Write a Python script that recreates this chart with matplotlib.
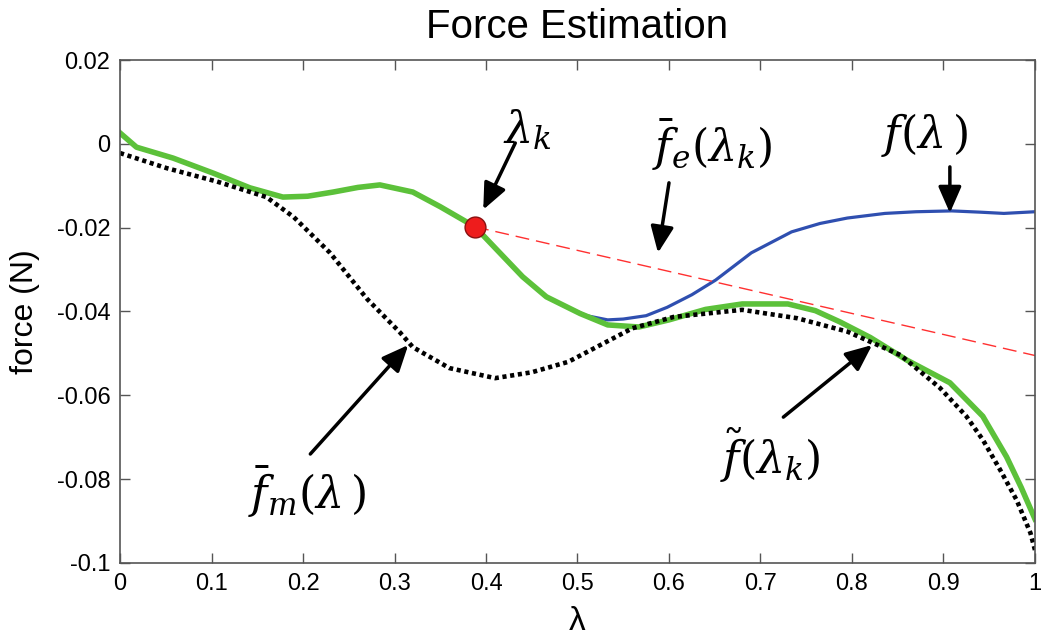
import matplotlib.pyplot as plt

plt.rcParams['font.family'] = ['Liberation Sans', 'DejaVu Sans']
plt.rcParams['mathtext.fontset'] = 'dejavuserif'

# measured curve f(lambda)
lam_f = [0, 0.018, 0.058, 0.102, 0.142, 0.178, 0.205, 0.233, 0.26, 0.284, 0.32, 0.35, 0.388,
         0.412, 0.44, 0.466, 0.487, 0.51, 0.533, 0.55, 0.575, 0.598, 0.625, 0.651, 0.69,
         0.734, 0.765, 0.795, 0.836, 0.87, 0.909, 0.94, 0.966, 1.0]
f_val = [0.0026, -0.0008, -0.0034, -0.007, -0.0105, -0.0127, -0.0125, -0.0115, -0.0104,
         -0.0098, -0.0115, -0.015, -0.0198, -0.0253, -0.0317, -0.0365, -0.0388, -0.041,
         -0.042, -0.0418, -0.041, -0.039, -0.036, -0.0325, -0.026, -0.021, -0.019, -0.0177,
         -0.0166, -0.0162, -0.016, -0.0163, -0.0166, -0.0162]

# estimated curve f~(lambda_k)
lam_t = [0, 0.018, 0.058, 0.102, 0.142, 0.178, 0.205, 0.233, 0.26, 0.284, 0.32, 0.35, 0.388,
         0.412, 0.44, 0.466, 0.503, 0.533, 0.567, 0.6, 0.64, 0.68, 0.73, 0.76, 0.787, 0.82,
         0.86, 0.907, 0.943, 0.969, 0.985, 1.0]
ft_val = [0.0026, -0.0008, -0.0034, -0.007, -0.0105, -0.0127, -0.0125, -0.0115, -0.0104,
          -0.0098, -0.0115, -0.015, -0.0198, -0.0253, -0.0317, -0.0365, -0.0405, -0.0432,
          -0.0437, -0.042, -0.0395, -0.0382, -0.0382, -0.0398, -0.0425, -0.0462, -0.0516,
          -0.057, -0.065, -0.0747, -0.082, -0.0895]

# model curve f_m(lambda)
lam_m = [0, 0.051, 0.106, 0.16, 0.19, 0.2295, 0.27, 0.306, 0.32, 0.36, 0.41, 0.45, 0.49,
         0.56, 0.605, 0.68, 0.74, 0.795, 0.853, 0.896, 0.925, 0.943, 0.962, 0.98, 0.995, 1.0]
fm_val = [-0.0022, -0.0058, -0.009, -0.0127, -0.0175, -0.026, -0.037, -0.045, -0.0485,
          -0.0535, -0.0559, -0.0545, -0.052, -0.044, -0.0413, -0.0396, -0.0416, -0.0448,
          -0.0504, -0.0582, -0.065, -0.0706, -0.0778, -0.085, -0.0928, -0.0969]

# extrapolation f_e(lambda_k)
lam_e = [0.388, 1.0]
fe_val = [-0.0198, -0.0505]
lam_k, f_k = 0.388, -0.0198

fig = plt.figure(figsize=(10.41, 6.35), dpi=100)
ax = fig.add_axes([0.1153, 0.1134, 0.8789, 0.7921])

ax.plot(lam_f, f_val, color='#2f4fb0', lw=2.3)
ax.plot(lam_t, ft_val, color='#5cc13a', lw=4, solid_joinstyle='round')
ax.plot(lam_m, fm_val, color='black', lw=3.3, ls=(0, (0.9, 0.8)))
ax.plot(lam_e, fe_val, color='#ff3030', lw=1, ls=(0, (10, 5)))
ax.plot([lam_k], [f_k], 'o', ms=15, mfc='#ee1c1c', mec='#8a1010', mew=1)

arrow = dict(arrowstyle='-|>,head_length=1.6,head_width=0.7', color='black', lw=2.5,
             shrinkA=0, shrinkB=0)
ax.annotate('', xy=(0.397, -0.0157), xytext=(0.432, 0.0002), arrowprops=arrow)
ax.annotate('', xy=(0.588, -0.026), xytext=(0.600, -0.0093), arrowprops=arrow)
ax.annotate('', xy=(0.907, -0.0165), xytext=(0.907, -0.0055), arrowprops=arrow)
ax.annotate('', xy=(0.315, -0.048), xytext=(0.208, -0.074), arrowprops=arrow)
ax.annotate('', xy=(0.822, -0.048), xytext=(0.725, -0.0652), arrowprops=arrow)

fs = 32
ax.text(0.445, 0.0033, r'$\lambda_k$', fontsize=fs, ha='center', va='center')
ax.text(0.647, -0.0003, r'$\bar{f}_e(\lambda_k)$', fontsize=fs, ha='center', va='center')
ax.text(0.88, 0.0021, r'$f(\lambda\,)$', fontsize=fs, ha='center', va='center')
ax.text(0.205, -0.083, r'$\bar{f}_m(\lambda\,)$', fontsize=fs, ha='center', va='center')
ax.text(0.711, -0.0742, r'$\tilde{f}(\lambda_k)$', fontsize=fs, ha='center', va='center')

ax.set_xlim(0, 1)
ax.set_ylim(-0.1, 0.02)
ax.set_xticks([0, 0.1, 0.2, 0.3, 0.4, 0.5, 0.6, 0.7, 0.8, 0.9, 1])
ax.set_xticklabels(['0', '0.1', '0.2', '0.3', '0.4', '0.5', '0.6', '0.7', '0.8', '0.9', '1'])
ax.set_yticks([-0.1, -0.08, -0.06, -0.04, -0.02, 0, 0.02])
ax.set_yticklabels(['-0.1', '-0.08', '-0.06', '-0.04', '-0.02', '0', '0.02'])
ax.tick_params(direction='in', top=True, right=True, length=7, width=1, labelsize=17,
               color='#555555', pad=7)
for s in ax.spines.values():
    s.set_color('#555555')
    s.set_linewidth(1.2)

ax.set_title('Force Estimation', fontsize=29, pad=16)
ax.set_xlabel('λ', fontsize=24)
ax.set_ylabel('force (N)', fontsize=23)
ax.xaxis.set_label_coords(0.5, -0.085)
ax.yaxis.set_label_coords(-0.088, 0.5)

plt.savefig('out.png', dpi=100)
